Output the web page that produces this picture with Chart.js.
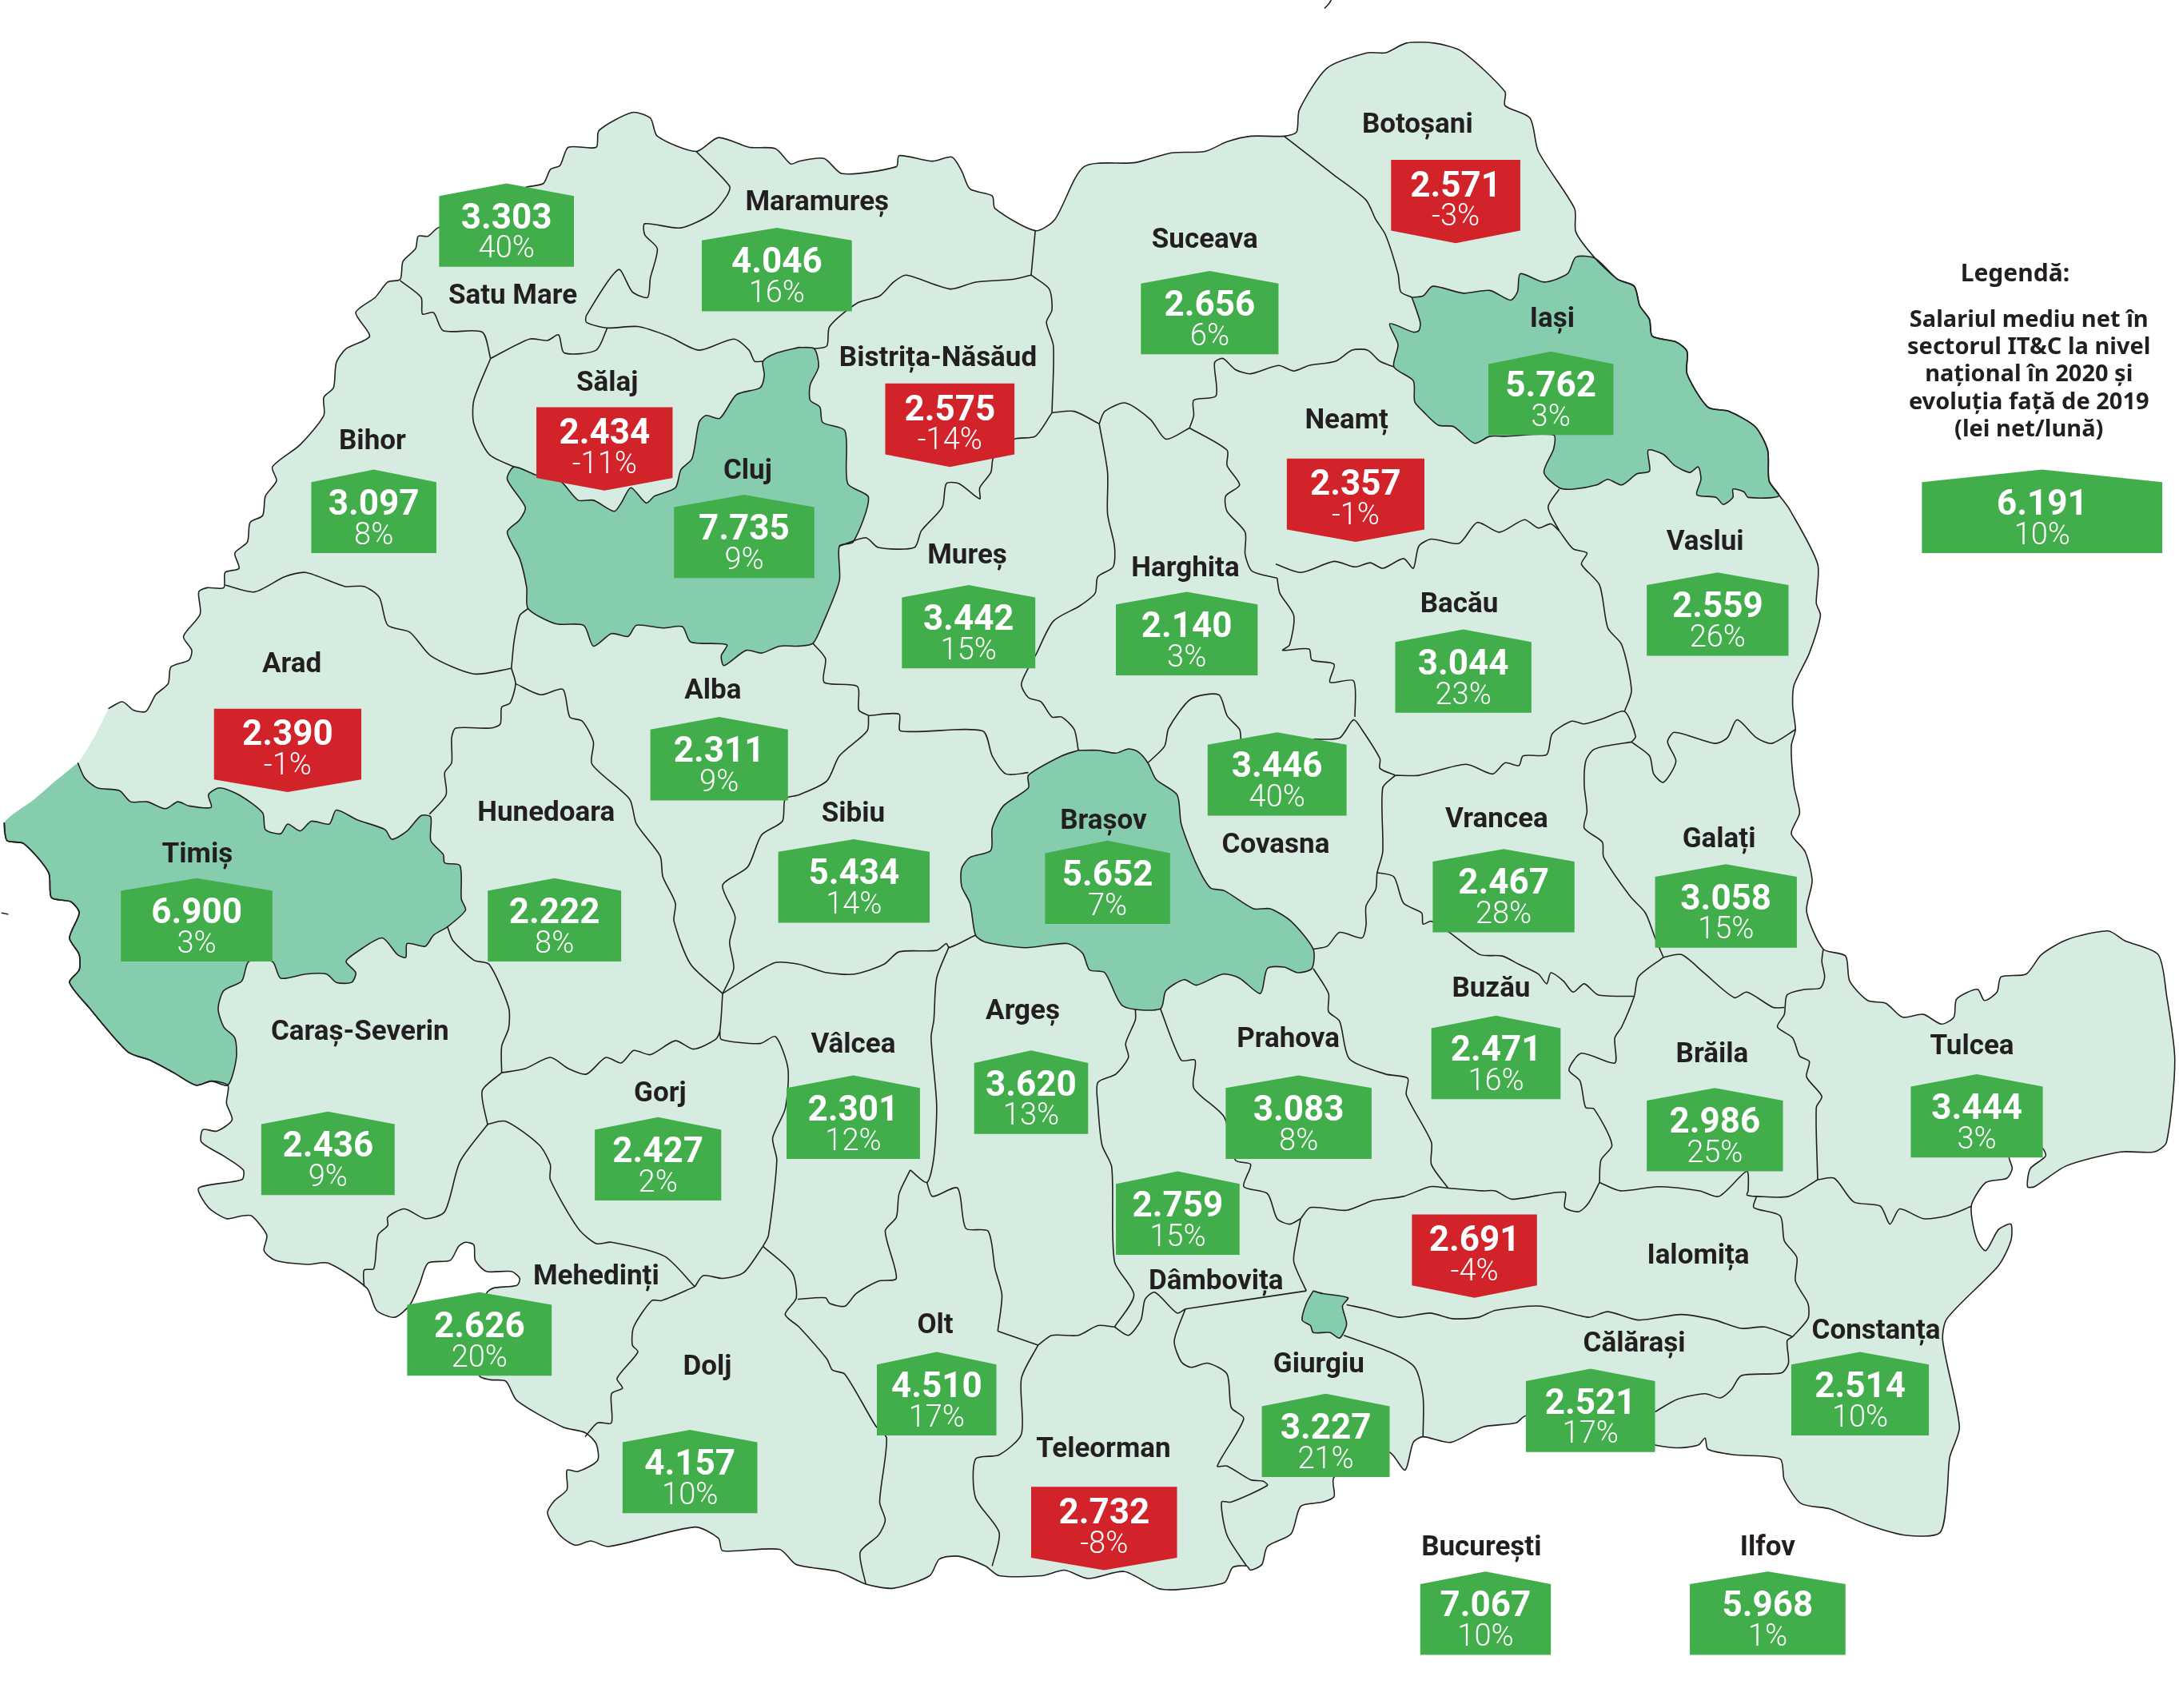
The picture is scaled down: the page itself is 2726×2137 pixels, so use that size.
<!DOCTYPE html>
<html>
<head>
<meta charset="utf-8">
<title>Salariul mediu net IT&amp;C 2020</title>
<script src="https://cdn.jsdelivr.net/npm/chart.js@4/dist/chart.umd.min.js"></script>
<style>
    html, body { margin: 0; padding: 0; background: #fff; }
    canvas { display: block; }
</style>
</head>
<body>
<canvas id="map" width="2726" height="2137"></canvas>
<script>
// Values
const counties = ['Satu Mare', 'Maramureș', 'Botoșani', 'Suceava', 'Iași', 'Bistrița-Năsăud', 'Sălaj', 'Neamț', 'Bihor', 'Cluj', 'Vaslui', 'Mureș', 'Harghita', 'Bacău', 'Arad', 'Alba', 'Hunedoara', 'Sibiu', 'Vrancea', 'Brașov', 'Galați', 'Covasna', 'Timiș', 'Buzău', 'Argeș', 'Caraș-Severin', 'Prahova', 'Vâlcea', 'Tulcea', 'Brăila', 'Gorj', 'Ialomița', 'Mehedinți', 'Dâmbovița', 'Olt', 'Călărași', 'Constanța', 'Giurgiu', 'Dolj', 'Teleorman', 'București', 'Ilfov'];
const salaries = [3303, 4046, 2571, 2656, 5762, 2575, 2434, 2357, 3097, 7735, 2559, 3442, 2140, 3044, 2390, 2311, 2222, 5434, 2467, 5652, 3058, 3446, 6900, 2471, 3620, 2436, 3083, 2301, 3444, 2986, 2427, 2691, 2626, 2759, 4510, 2521, 2514, 3227, 4157, 2732, 7067, 5968];
const changes = [40, 16, -3, 6, 3, -14, -11, -1, 8, 9, 26, 15, 3, 23, -1, 9, 8, 14, 28, 7, 15, 40, 3, 16, 13, 9, 8, 12, 3, 25, 2, -4, 20, 15, 17, 17, 10, 21, 10, -8, 10, 1];
const nationalSalary = 6191;
const nationalChange = 10;
const legendTitle = 'Legendă:';
const legendLines = ['Salariul mediu net în', 'sectorul IT&C la nivel', 'național în 2020 și', 'evoluția față de 2019', '(lei net/lună)'];

// Where things sit on the map, in the axis units
const labelSpots = [[369,212],[588,145],[1020,89],[867,172],[1117,229],[675,257],[437,275],[969,302],[268,317],[538,338],[1227,389],[696,399],[853,408],[1050,434],[210,477],[513,496],[393,584],[614,585],[1077,589],[794,590],[1237,603],[918,607],[142,614],[1073,711],[736,727],[259,742],[927,747],[614,751],[1419,752],[1232,758],[475,786],[1222,903],[429,918],[875,921],[673,953],[1176,966],[1350,957],[949,981],[509,983],[794,1042],[1066,1113],[1272,1113]];
const badgeSpots = [[316,413,132],[505,613,164],[1001,1094,115],[821,920,195],[1071,1161,253],[637,730,276],[386,484,293],[926,1025,330],[224,314,338],[485,586,356],[1185,1287,412],[649,745,421],[803,905,426],[1004,1102,453],[154,260,510],[468,567,516],[351,447,632],[560,669,604],[1031,1133,611],[752,842,605],[1191,1293,622],[869,969,527],[87,196,632],[1030,1123,731],[701,783,756],[188,284,800],[882,987,774],[566,662,774],[1375,1470,773],[1185,1283,783],[428,519,804],[1016,1106,874],[293,397,930],[803,892,843],[631,717,973],[1098,1191,985],[1289,1388,973],[908,1000,1003],[448,545,1029],[742,847,1070],[1022,1116,1131],[1216,1328,1131]];
const legendBadge = [1383, 1556, 338];

// Country outline, clockwise; the last points are the unstroked arc in the west
const westArc = [[25,575],[40,562],[56,549],[68,530],[78,510]];
const countryOutline = [[78,510],[88,505],[96,511],[105,512],[112,500],[121,492],[123,480],[136,475],[138,468],[132,458],[144,442],[143,426],[149,423],[161,423],[162,412],[172,409],[169,398],[178,390],[180,376],[189,371],[191,357],[199,346],[196,336],[216,320],[233,299],[233,286],[240,279],[242,261],[249,251],[266,242],[256,225],[270,214],[279,203],[288,201],[290,188],[299,179],[301,170],[308,170],[315,164],[378,135],[391,132],[396,122],[403,119],[409,106],[429,106],[431,94],[455,81],[468,85],[473,98],[501,109],[517,99],[539,106],[558,107],[569,118],[575,116],[593,114],[606,125],[645,120],[647,112],[671,116],[685,113],[692,123],[698,136],[714,141],[716,150],[745,166],[759,158],[780,120],[817,117],[843,110],[867,109],[883,102],[900,98],[924,98],[933,95],[935,79],[955,49],[984,38],[997,38],[1012,31],[1032,31],[1052,37],[1083,66],[1083,76],[1101,85],[1107,109],[1133,150],[1134,167],[1148,186],[1164,201],[1176,206],[1180,220],[1187,230],[1189,242],[1206,246],[1214,253],[1214,269],[1229,293],[1244,296],[1263,307],[1272,324],[1273,346],[1280,356],[1288,367],[1308,406],[1307,434],[1310,443],[1302,470],[1291,493],[1290,508],[1292,525],[1289,537],[1291,566],[1295,585],[1289,600],[1299,613],[1304,634],[1300,656],[1312,683],[1328,688],[1331,706],[1344,720],[1357,722],[1369,732],[1384,730],[1397,737],[1406,732],[1408,719],[1423,712],[1428,720],[1437,714],[1440,703],[1458,701],[1469,687],[1488,676],[1517,670],[1529,677],[1553,687],[1559,716],[1565,763],[1559,822],[1550,829],[1526,829],[1487,839],[1464,854],[1459,854],[1461,841],[1472,832],[1469,826],[1446,832],[1448,841],[1444,848],[1429,851],[1419,866],[1419,877],[1423,893],[1429,900],[1438,885],[1447,881],[1447,893],[1438,911],[1401,949],[1398,965],[1410,1027],[1403,1049],[1401,1076],[1396,1103],[1372,1105],[1343,1097],[1317,1086],[1296,1082],[1284,1065],[1281,1050],[1248,1047],[1229,1043],[1227,1035],[1222,1040],[1207,1042],[1191,1040],[1098,1019],[1091,1024],[1067,1027],[1044,1038],[1024,1034],[1017,1038],[1011,1058],[999,1045],[960,1063],[960,1077],[952,1081],[936,1084],[929,1104],[912,1113],[908,1126],[900,1130],[897,1127],[887,1128],[881,1139],[847,1144],[833,1143],[809,1131],[783,1136],[766,1130],[750,1134],[719,1134],[709,1127],[690,1120],[676,1122],[669,1134],[643,1143],[623,1140],[603,1131],[573,1126],[561,1115],[520,1116],[517,1107],[500,1099],[438,1113],[425,1109],[414,1112],[403,1105],[394,1089],[399,1080],[408,1072],[408,1058],[416,1059],[430,1051],[429,1039],[421,1031],[405,1027],[372,1008],[364,994],[353,993],[345,990],[350,931],[355,927],[372,925],[374,920],[368,915],[350,915],[342,907],[341,896],[335,894],[330,897],[324,907],[308,909],[302,924],[295,939],[284,948],[271,943],[264,927],[236,909],[221,910],[198,907],[190,900],[192,889],[181,875],[174,875],[163,877],[150,869],[143,855],[174,849],[175,842],[161,832],[145,822],[146,813],[156,814],[167,806],[163,794],[164,781],[152,778],[141,781],[125,772],[108,763],[92,757],[64,725],[50,707],[57,698],[57,687],[50,675],[57,657],[51,649],[37,646],[35,628],[17,607],[5,605],[3,592]];

// Counties shaded darker
const clujArea = [[575,250],[586,251],[589,264],[583,277],[583,288],[590,293],[592,304],[608,310],[610,348],[625,358],[614,390],[604,393],[604,418],[592,449],[585,463],[575,465],[561,465],[548,470],[537,468],[521,479],[519,472],[523,464],[497,462],[491,451],[477,452],[458,450],[452,458],[440,456],[427,465],[420,450],[400,449],[380,438],[379,423],[374,402],[365,383],[374,374],[378,365],[365,345],[370,336],[386,342],[403,346],[416,360],[427,360],[442,368],[447,362],[454,351],[465,362],[471,357],[486,351],[490,338],[498,330],[503,304],[508,299],[518,301],[530,284],[547,279],[550,270],[549,260],[559,254],[575,250]];
const iasiArea = [[1016,214],[1022,232],[1021,238],[1017,239],[1000,233],[1006,248],[1003,264],[1017,274],[1018,289],[1024,296],[1035,306],[1046,307],[1061,319],[1072,314],[1083,314],[1118,313],[1118,323],[1111,340],[1122,351],[1132,352],[1149,349],[1157,345],[1167,349],[1178,341],[1187,339],[1186,324],[1197,327],[1205,335],[1216,340],[1222,336],[1224,345],[1221,356],[1235,358],[1240,363],[1247,358],[1247,352],[1255,354],[1258,358],[1280,357],[1273,346],[1272,324],[1263,307],[1244,296],[1229,293],[1214,269],[1214,253],[1206,246],[1189,242],[1187,230],[1180,220],[1176,206],[1164,201],[1148,186],[1134,185],[1128,197],[1111,203],[1094,197],[1092,210],[1087,216],[1072,209],[1053,211],[1031,206],[1024,213],[1016,214]];
const timisArea = [[56,549],[61,560],[70,567],[86,569],[94,577],[106,577],[119,582],[128,577],[136,580],[152,581],[150,572],[158,567],[172,572],[189,585],[191,597],[202,600],[207,593],[216,598],[224,591],[237,593],[242,583],[257,590],[277,597],[282,604],[293,598],[303,587],[310,588],[310,605],[319,615],[320,621],[331,623],[332,647],[335,655],[322,667],[312,673],[306,681],[293,679],[292,689],[286,687],[275,675],[257,685],[249,692],[256,700],[253,707],[242,707],[235,701],[220,701],[202,704],[196,692],[179,692],[174,706],[161,713],[157,726],[161,739],[169,747],[170,762],[164,781],[152,778],[141,781],[125,772],[108,763],[92,757],[64,725],[50,707],[57,698],[57,687],[50,675],[57,657],[51,649],[37,646],[35,628],[17,607],[5,605],[3,592]];
const brasovArea = [[776,540],[764,544],[740,558],[740,567],[722,580],[714,596],[713,612],[698,617],[692,625],[692,638],[698,650],[702,673],[709,678],[738,682],[768,679],[779,686],[784,698],[795,700],[808,724],[835,726],[839,713],[852,705],[861,709],[880,701],[892,704],[907,715],[912,697],[924,696],[934,700],[944,697],[945,683],[929,663],[914,654],[902,654],[881,641],[871,639],[861,622],[850,593],[847,572],[832,561],[826,549],[819,541],[812,539],[803,542],[790,540],[776,540]];
const bucurestiArea = [[945,929],[940,938],[937,950],[943,954],[945,959],[957,959],[964,963],[969,953],[966,940],[970,934],[952,931],[945,929]];

// County borders, one run per stretch
const borderLines = [
    [[288,202],[303,214],[304,226],[312,225],[319,238],[347,239],[353,258]],
    [[353,258],[381,244],[394,245],[402,241],[406,254],[429,252],[437,236]],
    [[501,109],[525,134],[523,141],[512,154],[490,164],[464,161],[464,169],[473,179],[468,200],[466,214],[455,210],[445,194],[422,227],[422,232],[437,236],[459,235],[481,242],[503,252],[528,244],[539,252],[543,260],[549,260]],
    [[353,258],[341,288],[341,305],[352,327],[370,336]],
    [[162,421],[183,426],[205,415],[220,412],[248,422],[262,422],[273,430],[279,450],[295,455],[310,472],[341,485],[368,481]],
    [[368,481],[370,461],[374,443],[380,438]],
    [[368,481],[371,492],[367,506],[361,509],[360,521],[353,524],[328,524],[325,531],[325,549],[320,556],[321,572],[309,586]],
    [[371,492],[389,500],[405,496],[410,516],[419,519],[427,534],[426,550],[453,575],[458,593],[475,616],[477,631],[486,650],[485,663],[497,694],[520,715]],
    [[322,667],[326,677],[341,691],[352,694],[366,725],[366,740],[361,753],[361,772]],
    [[361,772],[378,769],[396,761],[409,769],[422,773],[436,761],[447,765],[456,756],[468,759],[486,749],[499,755],[515,748],[518,742],[520,715]],
    [[520,715],[528,697],[525,678],[529,660],[520,637],[538,624],[548,601],[563,591],[565,575],[575,572],[595,562],[604,544],[624,526],[625,515]],
    [[625,515],[618,511],[617,494],[593,491],[594,474],[585,463]],
    [[625,515],[647,514],[648,526],[707,526],[714,544],[724,557],[740,556]],
    [[776,540],[773,525],[764,516],[757,516],[749,505],[740,502],[735,492],[746,470],[758,447],[777,436],[788,427],[790,415],[801,408],[802,393],[797,370],[797,340],[791,305]],
    [[604,393],[623,387],[632,394],[658,394],[663,382],[678,365],[681,348],[690,348],[705,359],[705,351],[713,340],[715,329],[730,316],[745,314],[757,297]],
    [[757,297],[773,296],[791,305]],
    [[742,198],[755,208],[757,223],[753,232],[758,249],[757,297]],
    [[745,166],[742,198]],
    [[742,198],[729,201],[702,203],[684,208],[652,198],[643,203],[633,213],[617,218],[597,235],[595,249],[586,251]],
    [[924,98],[960,126],[983,144],[990,158],[997,169],[1006,197],[1008,210],[1016,214]],
    [[1003,264],[993,260],[984,252],[973,252],[961,260],[942,263],[931,267],[920,263],[900,269],[889,266],[880,258],[874,261],[875,285],[859,288],[859,299],[856,308]],
    [[856,308],[839,316],[828,302],[810,290],[795,296],[791,305]],
    [[856,308],[883,324],[883,335],[892,349],[882,357],[883,368],[896,383],[896,399],[901,411],[919,416]],
    [[918,406],[936,412],[960,404],[975,408],[986,405],[995,409],[1010,402],[1017,409],[1021,393],[1030,388],[1050,391],[1063,376],[1079,383],[1097,374],[1107,380],[1116,377],[1122,382]],
    [[1122,382],[1114,365],[1122,352]],
    [[1122,382],[1132,395],[1142,398],[1138,406],[1151,421],[1157,452],[1167,464],[1174,497],[1169,512]],
    [[919,416],[921,427],[931,443],[928,464],[923,468],[942,467],[944,475],[960,478],[957,491],[974,490],[975,516]],
    [[826,549],[838,537],[841,524],[857,503],[877,500],[883,515],[892,525],[893,533]],
    [[945,532],[964,531],[974,518],[980,525],[993,546],[993,553],[1004,558]],
    [[1004,558],[995,567],[995,613],[991,628],[990,640],[983,652],[983,666],[980,675],[964,671],[955,681],[945,683]],
    [[1004,558],[1021,558],[1055,550],[1074,557],[1083,549],[1093,551],[1096,544],[1113,543],[1117,528],[1131,519],[1140,521],[1154,517],[1169,512],[1177,530],[1174,534]],
    [[1174,534],[1155,537],[1146,540],[1141,548],[1140,565],[1142,584],[1140,596],[1153,606],[1154,617],[1173,645],[1184,657],[1191,675],[1197,689]],
    [[1174,534],[1187,544],[1190,557],[1197,563],[1206,548],[1200,534],[1205,527],[1234,535],[1243,531],[1250,518],[1264,531],[1275,535],[1292,525]],
    [[991,628],[1003,631],[1010,650],[1023,657],[1024,665],[1030,663],[1043,671],[1065,687],[1081,688],[1093,694],[1107,701],[1113,708],[1116,700],[1125,706],[1132,714],[1140,708],[1150,716],[1176,717]],
    [[1197,689],[1179,703],[1176,717],[1167,739],[1162,747],[1162,765],[1138,758],[1129,770],[1137,778],[1141,797],[1147,798],[1160,824],[1152,835],[1151,851]],
    [[1197,689],[1210,687],[1226,700],[1248,718],[1257,714],[1276,725],[1284,725]],
    [[1312,683],[1311,692],[1313,703],[1310,711],[1299,712],[1286,716],[1284,730],[1279,739],[1290,747],[1295,760],[1302,764],[1300,775],[1311,789],[1307,797],[1308,849]],
    [[1151,851],[1166,857],[1193,854],[1223,857],[1237,861],[1257,843],[1258,857],[1257,860],[1264,861],[1287,861],[1308,849]],
    [[1264,861],[1262,869],[1281,875],[1284,893],[1293,905],[1292,922],[1301,938],[1301,949],[1290,962]],
    [[1308,849],[1320,848],[1334,865],[1353,868],[1360,881],[1367,870],[1384,877],[1401,875],[1419,868]],
    [[1290,962],[1286,965],[1287,981],[1282,988],[1253,990],[1246,1000],[1238,1006],[1227,1003],[1207,1007],[1191,1016]],
    [[969,939],[988,943],[1007,948],[1029,945],[1045,949],[1064,948],[1076,943],[1109,940],[1143,948],[1157,944],[1179,950],[1210,946],[1234,950],[1253,956],[1270,955],[1290,962]],
    [[967,961],[1000,973],[1018,984],[1024,1005],[1024,1034]],
    [[936,877],[933,892],[931,908],[940,929]],
    [[940,929],[853,942]],
    [[936,877],[943,869],[969,871],[988,864],[1010,861],[1029,854],[1042,855]],
    [[1042,855],[1067,857],[1076,857],[1088,863],[1126,858],[1126,869],[1136,872],[1143,866],[1151,851]],
    [[945,697],[956,715],[956,728],[964,735],[971,762],[997,773],[1013,776],[1012,788],[1030,822],[1030,838],[1042,855]],
    [[835,726],[850,763],[860,763],[859,783],[881,804],[889,835],[900,838],[895,854],[912,859],[919,877],[928,881],[936,877]],
    [[817,726],[817,734],[810,751],[812,761],[803,773],[790,779],[790,795],[793,824],[800,840],[802,908],[816,932],[802,955]],
    [[802,955],[812,961],[821,950],[824,935],[831,930],[847,945],[853,942]],
    [[853,942],[845,965],[850,980],[857,984],[869,981],[883,989],[886,1013],[895,1021],[876,1055],[883,1055],[900,1065],[909,1066],[912,1069],[886,1081],[879,1081],[883,1105],[897,1127]],
    [[747,968],[757,961],[776,961],[790,954],[802,955]],
    [[747,968],[735,992],[735,1032],[719,1047],[702,1050],[702,1078],[719,1103],[714,1127]],
    [[718,958],[747,968]],
    [[667,851],[671,861],[689,855],[695,884],[711,886],[716,913],[721,932],[718,958]],
    [[655,842],[667,851],[672,833],[674,795],[670,747],[672,734],[674,704],[683,681]],
    [[655,842],[647,859],[645,876],[637,886],[645,920],[632,922],[616,931],[608,940],[597,938],[594,934],[574,935]],
    [[702,673],[683,682],[681,679],[674,684],[647,685],[636,694],[615,701],[595,700],[575,694],[557,693],[520,715]],
    [[518,742],[519,748],[547,751],[558,746],[567,769],[565,798],[556,819],[559,835],[553,889],[549,897]],
    [[549,897],[570,916],[573,934],[565,946],[575,955],[595,978],[599,986],[608,989],[630,1026],[638,1035],[633,1081],[637,1094],[632,1105],[619,1117],[623,1140]],
    [[549,897],[535,916],[520,920],[506,918],[500,926]],
    [[351,809],[364,807],[388,824],[396,838],[396,849],[416,884],[429,895],[440,894],[478,904],[500,926]],
    [[500,926],[476,936],[469,936],[456,955],[455,968],[459,973],[444,992],[448,999],[440,1003],[440,1024],[430,1024],[421,1034]],
    [[351,809],[331,836],[320,872],[306,877],[291,870],[279,876],[279,882],[272,889],[269,913],[262,914],[262,926]],
    [[361,772],[347,785],[351,810]],
    [[958,0],[956,3],[953,6]],
    [[1,657],[6,658]]
];

const LINE_COLOR = '#231f20';
const LIGHT_GREEN = '#d7ece1';
const DARK_GREEN = '#86cdae';
const BADGE_GREEN = '#41ae4b';
const BADGE_RED = '#d2232a';
const NUM_FONT = 'bold 44px Roboto, sans-serif';
const PCT_FONT = '300 38px Roboto, sans-serif';
const NAME_FONT = 'bold 35px Roboto, sans-serif';

function area(points, color, width) {
    return { data: points, showLine: true, fill: 'shape', tension: 0.25, pointRadius: 0, backgroundColor: color, borderColor: LINE_COLOR, borderWidth: width, order: 3 };
}

function stroke(points) {
    return { data: points, showLine: true, fill: false, tension: 0.25, pointRadius: 0, borderColor: LINE_COLOR, borderWidth: 1.6, order: 1 };
}

function formatSalary(value) {
    const text = String(value);
    return text.slice(0, text.length - 3) + '.' + text.slice(-3);
}

// Badges and names go on top of the map, placed through the scales
const mapLabels = {
    id: 'mapLabels',
    afterDatasetsDraw(chart) {
        const ctx = chart.ctx;
        const x = chart.scales.x;
        const y = chart.scales.y;

        function badge(spot, salary, change) {
            const [left, right, top] = spot;
            const mid = (left + right) / 2;
            const shape = change < 0
                ? [[left, top], [right, top], [right, top + 51], [mid, top + 60], [left, top + 51]]
                : [[left, top + 9], [mid, top], [right, top + 9], [right, top + 60], [left, top + 60]];
            ctx.beginPath();
            shape.forEach(([px, py], i) => {
                const cx = x.getPixelForValue(px);
                const cy = y.getPixelForValue(py);
                if (i === 0) ctx.moveTo(cx, cy); else ctx.lineTo(cx, cy);
            });
            ctx.closePath();
            ctx.fillStyle = change < 0 ? BADGE_RED : BADGE_GREEN;
            ctx.fill();

            const shift = change < 0 ? 20 : 26;
            ctx.fillStyle = '#fff';
            ctx.font = NUM_FONT;
            ctx.fillText(formatSalary(salary), x.getPixelForValue(mid), y.getPixelForValue(top + shift));
            ctx.font = PCT_FONT;
            ctx.fillText(change + '%', x.getPixelForValue(mid), y.getPixelForValue(top + shift + 22));
        }

        ctx.save();
        ctx.textAlign = 'center';
        ctx.textBaseline = 'middle';

        counties.forEach((name, i) => badge(badgeSpots[i], salaries[i], changes[i]));
        badge(legendBadge, nationalSalary, nationalChange);

        ctx.fillStyle = LINE_COLOR;
        ctx.font = NAME_FONT;
        counties.forEach((name, i) => {
            ctx.fillText(name, x.getPixelForValue(labelSpots[i][0]), y.getPixelForValue(labelSpots[i][1] + 1.5));
        });

        ctx.font = 'bold 30px "Noto Sans", sans-serif';
        ctx.fillText(legendTitle, x.getPixelForValue(1450), y.getPixelForValue(197.5));
        ctx.font = 'bold 29px "Noto Sans", sans-serif';
        legendLines.forEach((line, i) => {
            ctx.fillText(line, x.getPixelForValue(1460), y.getPixelForValue(230.5 + i * 19.7));
        });
        ctx.restore();
    }
};

new Chart(document.getElementById('map'), {
    type: 'scatter',
    data: {
        datasets: [
            Object.assign(area(countryOutline.concat(westArc), LIGHT_GREEN, 0), { order: 5 }),
            area(timisArea.concat(westArc.slice(0, 3)), DARK_GREEN, 0),
            area(clujArea, DARK_GREEN, 1.6),
            area(iasiArea, DARK_GREEN, 1.6),
            area(brasovArea, DARK_GREEN, 1.6),
            area(bucurestiArea, DARK_GREEN, 1.6),
            stroke(countryOutline),
            stroke(timisArea),
            ...borderLines.map(stroke)
        ]
    },
    options: {
        responsive: false,
        animation: false,
        devicePixelRatio: 1,
        layout: { padding: 0 },
        events: [],
        scales: {
            x: { type: 'linear', display: false, min: 0, max: 1568 },
            y: { type: 'linear', display: false, min: 0, max: 1229.2, reverse: true }
        },
        plugins: {
            legend: { display: false },
            tooltip: { enabled: false },
            title: { display: false }
        }
    },
    plugins: [mapLabels]
});
</script>
</body>
</html>
